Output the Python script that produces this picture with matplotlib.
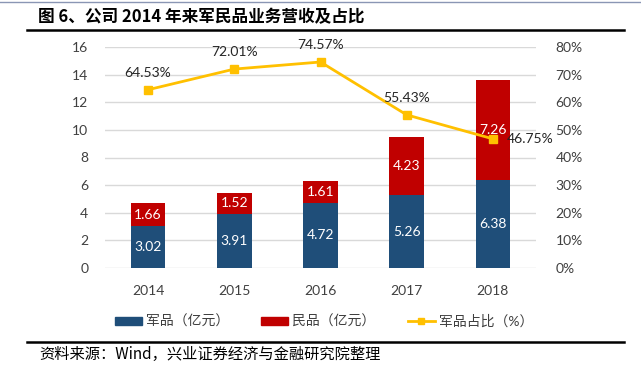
import numpy as np
import matplotlib.pyplot as plt
from matplotlib.lines import Line2D

plt.rcParams['font.family'] = ['Lato', 'Noto Sans CJK SC', 'DejaVu Sans']

years = ['2014', '2015', '2016', '2017', '2018']
military = [3.02, 3.91, 4.72, 5.26, 6.38]
civil = [1.66, 1.52, 1.61, 4.23, 7.26]
share = [64.53, 72.01, 74.57, 55.43, 46.75]

blue = '#1F4E79'
red = '#C00000'
gold = '#FFC000'
txt = '#404040'

fig = plt.figure(figsize=(6.41, 3.79), dpi=100)
W, H = 641, 379

ax = fig.add_axes([105 / W, 1 - 268 / H, 431 / W, 221 / H])
ax2 = ax.twinx()

x = np.arange(len(years))
bw = 0.4
ax.bar(x, military, bw, color=blue, zorder=2)
ax.bar(x, civil, bw, bottom=military, color=red, zorder=2)
for i in range(len(x)):
    ax.text(x[i], military[i] / 2, f'{military[i]:.2f}', ha='center', va='center',
            color='white', fontsize=10, zorder=3)
    ax.text(x[i], military[i] + civil[i] / 2, f'{civil[i]:.2f}', ha='center', va='center',
            color='white', fontsize=10, zorder=3)

ax.set_ylim(0, 16)
ax.set_yticks(range(0, 17, 2))
ax.set_xlim(-0.5, len(years) - 0.5)
ax.set_xticks(x)
ax.set_xticklabels(years)
ax.grid(axis='y', color='#D9D9D9', linewidth=1, zorder=0)
ax.set_axisbelow(True)

ax2.plot(x, share, color=gold, linewidth=2, marker='s', markersize=6, zorder=4)
ax2.set_ylim(0, 80)
ax2.set_yticks(range(0, 81, 10))
ax2.set_yticklabels([f'{v}%' for v in range(0, 81, 10)])
for i in range(len(x)):
    if i == len(x) - 1:
        ax2.text(x[i] + 0.16, share[i], f'{share[i]:.2f}%', ha='left', va='center',
                 fontsize=10, color='#262626', zorder=5)
    else:
        ax2.text(x[i], share[i] + 4, f'{share[i]:.2f}%', ha='center', va='bottom',
                 fontsize=10, color='#262626', zorder=5)

for a in (ax, ax2):
    for s in a.spines.values():
        s.set_visible(False)
    a.tick_params(length=0, labelsize=10, colors=txt)
ax.tick_params(axis='y', pad=12)
ax2.tick_params(axis='y', pad=14)
ax.tick_params(axis='x', pad=12)

handles = [plt.Rectangle((0, 0), 1, 1, color=blue),
           plt.Rectangle((0, 0), 1, 1, color=red),
           Line2D([0], [0], color=gold, linewidth=2, marker='s', markersize=5)]
fig.legend(handles, ['军品（亿元）', '民品（亿元）', '军品占比（%）'],
           loc='center', bbox_to_anchor=(324 / W, 1 - 321 / H), ncol=3, frameon=False,
           fontsize=10, handlelength=1.95, handleheight=0.5, handletextpad=0.3,
           columnspacing=2.3, labelcolor=txt)

fig.add_artist(Line2D([0, 1], [1 - 2 / H, 1 - 2 / H], color='#8A96B4', linewidth=1))
fig.text(38 / W, 1 - 17 / H, '图 6、公司 2014 年来军民品业务营收及占比', fontsize=12,
         fontweight='bold', va='center', ha='left', family=['Noto Sans CJK SC', 'DejaVu Sans'])
fig.add_artist(Line2D([27 / W, 624 / W], [1 - 30 / H, 1 - 30 / H], color='black', linewidth=1.8))
fig.add_artist(Line2D([27 / W, 624 / W], [1 - 342 / H, 1 - 342 / H], color='black', linewidth=1.8))
fig.text(39 / W, 1 - 354 / H, '资料来源：Wind，兴业证券经济与金融研究院整理', fontsize=11,
         va='center', ha='left', family=['Noto Sans CJK SC', 'DejaVu Sans'])

fig.savefig('out.png', dpi=100)
